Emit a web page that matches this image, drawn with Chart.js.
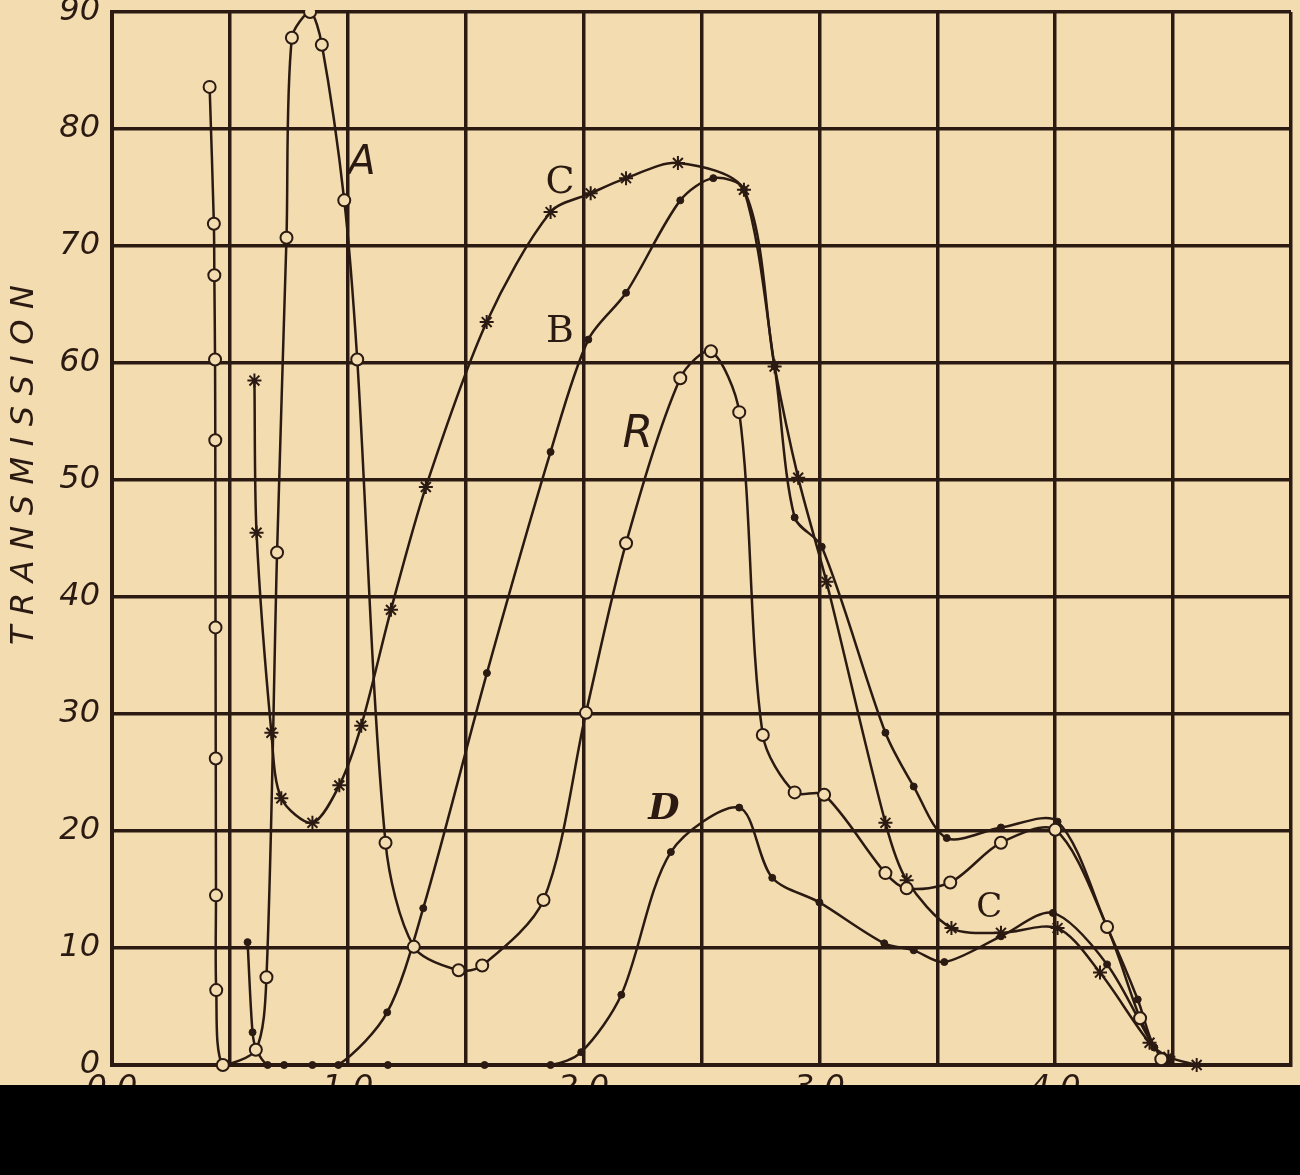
<!DOCTYPE html>
<html>
<head>
<meta charset="utf-8">
<title>Transmission curves</title>
<script src="https://cdn.jsdelivr.net/npm/chart.js@4"></script>
<style>
  body { margin: 0; background: #f3dcb0; }
  #wrap { position: relative; width: 1300px; height: 1175px; overflow: hidden; }
  #chart { position: absolute; left: 0; top: 0; }
  #band { position: absolute; left: 0; top: 1085px; width: 1300px; height: 90px; background: #000; }
</style>
</head>
<body>
<div id="wrap">
  <canvas id="chart" width="1300" height="1175"></canvas>
  <div id="band"></div>
</div>
<script>
// tick labels
const xTickLabels = ['0.0', '1.0', '2.0', '3.0', '4.0'];
const yTickLabels = ['0', '10', '20', '30', '40', '50', '60', '70', '80', '90'];

// curve A - open circles
const curveA = [
  [0.414, 83.6], [0.432, 71.9], [0.434, 67.5], [0.437, 60.3], [0.438, 53.4],
  [0.439, 37.4], [0.440, 26.2], [0.441, 14.5], [0.442, 6.4], [0.47, 0],
  [0.61, 1.3], [0.655, 7.5], [0.70, 43.8], [0.74, 70.7], [0.763, 87.8],
  [0.84, 90], [0.89, 87.2], [0.985, 73.9], [1.04, 60.3], [1.16, 19],
  [1.28, 10.1], [1.47, 8.1], [1.57, 8.5], [1.83, 14.1], [2.01, 30.1],
  [2.18, 44.6], [2.41, 58.7], [2.54, 61], [2.66, 55.8], [2.76, 28.2],
  [2.895, 23.3], [3.02, 23.1], [3.28, 16.4], [3.37, 15.1], [3.555, 15.6],
  [3.77, 19], [4.0, 20.1], [4.22, 11.8], [4.36, 4], [4.45, 0.5]
];

// curve B - small dots
const curveB = [
  [0.575, 10.5], [0.596, 2.8], [0.613, 1.3], [0.66, 0], [0.73, 0],
  [0.85, 0], [0.96, 0], [1.167, 4.5], [1.32, 13.4], [1.59, 33.5],
  [1.86, 52.4], [2.02, 62], [2.18, 66], [2.41, 73.9], [2.55, 75.8],
  [2.68, 74.8], [2.81, 59.7], [2.895, 46.8], [3.01, 44.3], [3.28, 28.4],
  [3.40, 23.8], [3.54, 19.4], [3.77, 20.3], [4.01, 20.8], [4.22, 11.8],
  [4.35, 5.6], [4.42, 1.5], [4.48, 0.5]
];

// curve C - crosses
const curveC = [
  [0.604, 58.5], [0.613, 45.5], [0.676, 28.4], [0.718, 22.8], [0.85, 20.7],
  [0.964, 23.9], [1.057, 29], [1.183, 38.9], [1.331, 49.4], [1.589, 63.5],
  [1.86, 72.9], [2.03, 74.5], [2.18, 75.8], [2.40, 77.1], [2.68, 74.8],
  [2.81, 59.7], [2.91, 50.2], [3.03, 41.3], [3.28, 20.7], [3.37, 15.8],
  [3.56, 11.7], [3.77, 11.3], [4.01, 11.7], [4.19, 7.9], [4.40, 1.9],
  [4.48, 0.7], [4.60, 0]
];

// curve D - small dots
const curveD = [
  [1.17, 0], [1.58, 0], [1.86, 0], [1.99, 1.1], [2.16, 6],
  [2.37, 18.2], [2.66, 22], [2.80, 16], [3.0, 13.9], [3.275, 10.4],
  [3.40, 9.8], [3.53, 8.8], [3.77, 11], [3.99, 13], [4.22, 8.6],
  [4.42, 1.5], [4.48, 0.3]
];

const ink = '#2a1a12';
const paper = '#f3dcb0';
const tickFont = { family: 'DejaVu Sans', size: 32, style: 'italic' };

const toXY = arr => arr.map(p => ({ x: p[0], y: p[1] }));

const curveTags = [
  { text: 'A', x: 1.06, y: 77, font: 'italic 40px "DejaVu Sans"' },
  { text: 'C', x: 1.90, y: 75.4, font: '38px "DejaVu Serif"' },
  { text: 'B', x: 1.90, y: 62.6, font: '38px "DejaVu Serif"' },
  { text: 'R', x: 2.23, y: 53.8, font: 'italic 44px "DejaVu Sans"' },
  { text: 'D', x: 2.34, y: 21.8, font: 'italic bold 36px "DejaVu Serif"' },
  { text: 'C', x: 3.72, y: 13.4, font: '34px "DejaVu Serif"' }
];

const tagPlugin = {
  id: 'tags',
  afterDatasetsDraw(chart) {
    const ctx = chart.ctx;
    const sx = chart.scales.x, sy = chart.scales.y;
    ctx.save();
    ctx.fillStyle = ink;
    ctx.textAlign = 'center';
    ctx.textBaseline = 'middle';
    curveTags.forEach(t => {
      ctx.font = t.font;
      ctx.fillText(t.text, sx.getPixelForValue(t.x), sy.getPixelForValue(t.y));
    });

    // vertical axis title
    const title = 'TRANSMISSION';
    ctx.font = 'italic 32px "DejaVu Sans"';
    ctx.translate(25, 465);
    ctx.rotate(-Math.PI / 2);
    const widths = title.split('').map(c => ctx.measureText(c).width);
    const total = widths.reduce((a, b) => a + b, 0);
    const gap = (360 - total) / (title.length - 1);
    let pos = -180;
    ctx.textAlign = 'left';
    title.split('').forEach((c, i) => {
      ctx.fillText(c, pos, 0);
      pos += widths[i] + gap;
    });
    ctx.restore();
  }
};

const clipBox = { left: 6, top: 2, right: 6, bottom: 12 };

const ctx = document.getElementById('chart').getContext('2d');
new Chart(ctx, {
  type: 'line',
  data: {
    datasets: [
      {
        label: 'A', data: toXY(curveA), borderColor: ink, borderWidth: 2.5, tension: 0.3,
        pointStyle: 'circle', pointRadius: 6, pointBorderWidth: 2,
        pointBackgroundColor: paper, pointBorderColor: ink, clip: clipBox
      },
      {
        label: 'B', data: toXY(curveB), borderColor: ink, borderWidth: 2.5, tension: 0.3,
        pointStyle: 'circle', pointRadius: 3.5, pointBorderWidth: 1,
        pointBackgroundColor: ink, pointBorderColor: ink, clip: clipBox
      },
      {
        label: 'C', data: toXY(curveC), borderColor: ink, borderWidth: 2.5, tension: 0.3,
        pointStyle: 'star', pointRadius: 7, pointBorderWidth: 2,
        pointBackgroundColor: ink, pointBorderColor: ink, clip: clipBox
      },
      {
        label: 'D', data: toXY(curveD), borderColor: ink, borderWidth: 2.5, tension: 0.3,
        pointStyle: 'circle', pointRadius: 3.5, pointBorderWidth: 1,
        pointBackgroundColor: ink, pointBorderColor: ink, clip: clipBox
      }
    ]
  },
  options: {
    responsive: false,
    animation: false,
    devicePixelRatio: 1,
    layout: { padding: { top: 12, right: 5, left: 0, bottom: 0 } },
    plugins: {
      legend: { display: false },
      tooltip: { enabled: false }
    },
    scales: {
      x: {
        type: 'linear', min: 0, max: 5,
        ticks: {
          stepSize: 0.5, autoSkip: false, maxRotation: 0, padding: 4,
          color: ink, font: tickFont,
          callback: (v, i) => (i % 2 === 0 ? (xTickLabels[i / 2] || '') : '')
        },
        grid: { color: ink, lineWidth: 3.5, drawTicks: false },
        border: { color: ink, width: 4 },
        afterFit: s => { s.height = 110; s.paddingLeft = 0; s.paddingRight = 0; }
      },
      y: {
        min: 0, max: 90,
        ticks: {
          stepSize: 10, padding: 12, color: ink, font: tickFont,
          callback: (v, i) => yTickLabels[i]
        },
        grid: { color: ink, lineWidth: 3.5, drawTicks: false },
        border: { color: ink, width: 4 },
        afterFit: s => { s.width = 112; s.paddingTop = 0; s.paddingBottom = 0; }
      }
    }
  },
  plugins: [tagPlugin]
});
</script>
</body>
</html>
